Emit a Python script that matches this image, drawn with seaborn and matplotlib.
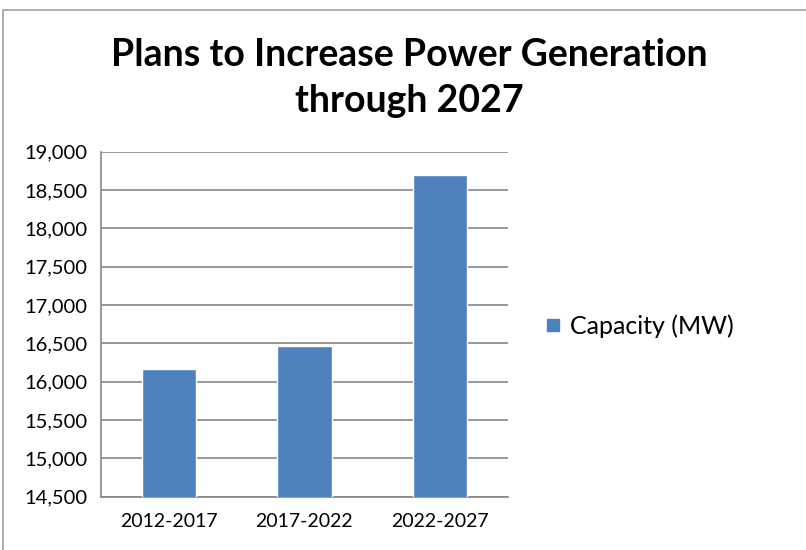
import pandas as pd
import matplotlib.pyplot as plt
import seaborn as sns
from matplotlib.patches import Rectangle
from matplotlib.lines import Line2D

# values
periods = ['2012-2017', '2017-2022', '2022-2027']
capacity_mw = [16160, 16460, 18700]
y_ticks = list(range(14500, 19001, 500))

bar_color = '#4F81BD'
grid_color = '#878787'


def build_frame():
    return pd.DataFrame({'Period': periods, 'Capacity (MW)': capacity_mw})


def plot_chart(df, output_file):
    sns.set_style('white')
    plt.rcParams['font.family'] = ['Lato', 'DejaVu Sans']
    plt.rcParams['text.color'] = 'black'
    plt.rcParams['xtick.labelcolor'] = 'black'
    plt.rcParams['ytick.labelcolor'] = 'black'

    fig = plt.figure(figsize=(8.06, 5.5), dpi=100)
    ax = fig.add_axes([0.1253, 0.097, 0.5047, 0.627])

    sns.barplot(data=df, x='Period', y='Capacity (MW)', color=bar_color,
                width=0.4, saturation=1, ax=ax, zorder=3)

    ax.set_ylim(y_ticks[0], y_ticks[-1])
    ax.set_yticks(y_ticks)
    ax.set_yticklabels([f'{v:,}' for v in y_ticks])
    ax.set_xlim(-0.5, len(periods) - 0.5)
    ax.yaxis.grid(True, color=grid_color, linewidth=1.2, zorder=0)
    ax.set_axisbelow(True)

    # category boundary ticks like excel
    ax.set_xticks([i + 0.5 for i in range(-1, len(periods))], minor=True)
    ax.tick_params(axis='x', which='minor', length=6, color=grid_color, width=1.2)
    ax.tick_params(axis='x', which='major', length=0, labelsize=14, pad=12)
    ax.tick_params(axis='y', length=6, color=grid_color, width=1.2, labelsize=14.5, pad=4)

    for side in ['top', 'right']:
        ax.spines[side].set_visible(False)
    for side in ['left', 'bottom']:
        ax.spines[side].set_color(grid_color)
        ax.spines[side].set_linewidth(1.2)

    ax.set_xlabel('')
    ax.set_ylabel('')

    fig.text(0.508, 0.858, 'Plans to Increase Power Generation\nthrough 2027',
             ha='center', va='center', fontsize=27, fontweight='bold',
             linespacing=1.42)

    handle = Line2D([], [], marker='s', linestyle='', color=bar_color, markersize=9)
    fig.legend([handle], ['Capacity (MW)'], loc='center left',
               bbox_to_anchor=(0.639, 0.407), frameon=False, fontsize=18,
               handletextpad=0.1, handlelength=1.2)

    # chart frame
    fig.patches.append(Rectangle((0.004, -0.01), 1.5, 0.992, transform=fig.transFigure,
                                 fill=False, edgecolor='#A0A0A0', linewidth=1.2))

    fig.savefig(output_file, dpi=100)
    plt.close(fig)


def main():
    df = build_frame()
    plot_chart(df, 'out.png')


if __name__ == "__main__":
    main()
